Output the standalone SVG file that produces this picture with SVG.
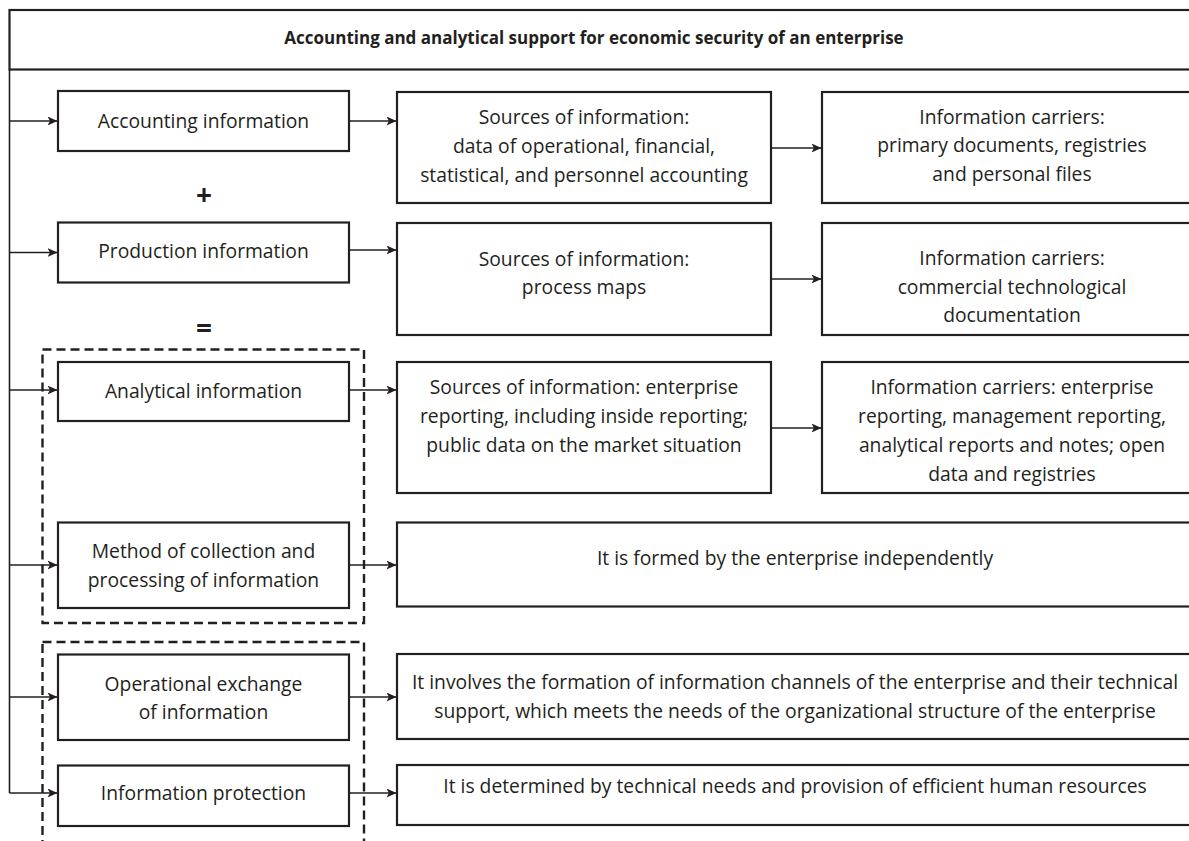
<svg xmlns="http://www.w3.org/2000/svg" width="1189" height="841" viewBox="0 0 1189 841">
<defs>
<style>
.box{fill:#fff;stroke:#231f20;stroke-width:2.2}
.dash{fill:none;stroke:#231f20;stroke-width:2.4;stroke-dasharray:9 5}
.ln{fill:none;stroke:#231f20;stroke-width:1.6}
.t{font-family:"Open Sans","Noto Sans",sans-serif;font-size:19.3px;fill:#231f20;text-anchor:middle}
.tb{font-family:"Open Sans","Noto Sans",sans-serif;font-size:17px;font-weight:bold;fill:#231f20;text-anchor:middle}
.op{font-family:"Open Sans","Noto Sans",sans-serif;font-size:28px;font-weight:bold;fill:#231f20;text-anchor:middle}
</style>
<marker id="ah" markerWidth="11" markerHeight="10" refX="10" refY="4.5" orient="auto" markerUnits="userSpaceOnUse">
<path d="M0,0 L10,4.5 L0,9 L2.5,4.5 z" fill="#231f20"/>
</marker>
</defs>
<rect width="1189" height="841" fill="#fff"/>

<g id="title">
<rect class="box" x="9.5" y="10" width="1195" height="59.5"/>
<text class="tb" x="594" y="44">Accounting and analytical support for economic security of an enterprise</text>
</g>

<g id="groups">
<rect class="dash" x="42.5" y="349.5" width="321.5" height="273.5"/>
<rect class="dash" x="42.5" y="642" width="321.5" height="230"/>
</g>

<g id="connectors">
<path class="ln" d="M9.5,69.5 V793"/>
<path class="ln" d="M9.5,121 H57.5" marker-end="url(#ah)"/>
<path class="ln" d="M9.5,252.5 H57.5" marker-end="url(#ah)"/>
<path class="ln" d="M9.5,390 H57.5" marker-end="url(#ah)"/>
<path class="ln" d="M9.5,565 H57.5" marker-end="url(#ah)"/>
<path class="ln" d="M9.5,697 H57.5" marker-end="url(#ah)"/>
<path class="ln" d="M9.5,793 H57.5" marker-end="url(#ah)"/>
<path class="ln" d="M349,121 H396.5" marker-end="url(#ah)"/>
<path class="ln" d="M349,250 H396.5" marker-end="url(#ah)"/>
<path class="ln" d="M349,390 H396.5" marker-end="url(#ah)"/>
<path class="ln" d="M349,565 H396.5" marker-end="url(#ah)"/>
<path class="ln" d="M349,697 H396.5" marker-end="url(#ah)"/>
<path class="ln" d="M349,793 H396.5" marker-end="url(#ah)"/>
<path class="ln" d="M771,148 H821.5" marker-end="url(#ah)"/>
<path class="ln" d="M771,279 H821.5" marker-end="url(#ah)"/>
<path class="ln" d="M771,428 H821.5" marker-end="url(#ah)"/>
</g>

<g id="acc">
<rect class="box" x="58" y="91" width="291" height="60"/>
<text class="t" x="203.5" y="128">Accounting information</text>
</g>
<text class="op" x="204" y="204.5">+</text>
<g id="prod">
<rect class="box" x="58" y="222.5" width="291" height="60"/>
<text class="t" x="203.5" y="258">Production information</text>
</g>
<text class="op" x="204" y="338">=</text>
<g id="anal">
<rect class="box" x="58" y="362" width="291" height="59"/>
<text class="t" x="203.5" y="398">Analytical information</text>
</g>
<g id="method">
<rect class="box" x="58" y="522.5" width="291" height="85.5"/>
<text class="t" x="203.5" y="558">Method of collection and</text>
<text class="t" x="203.5" y="587">processing of information</text>
</g>
<g id="oper">
<rect class="box" x="58" y="654.5" width="291" height="85.5"/>
<text class="t" x="203.5" y="690.5">Operational exchange</text>
<text class="t" x="203.5" y="719">of information</text>
</g>
<g id="prot">
<rect class="box" x="58" y="765.5" width="291" height="60.5"/>
<text class="t" x="203.5" y="800">Information protection</text>
</g>

<g id="src1">
<rect class="box" x="397" y="92" width="374" height="111"/>
<text class="t" x="584" y="124">Sources of information:</text>
<text class="t" x="584" y="153">data of operational, financial,</text>
<text class="t" x="584" y="182">statistical, and personnel accounting</text>
</g>
<g id="src2">
<rect class="box" x="397" y="223" width="374" height="112"/>
<text class="t" x="584" y="266">Sources of information:</text>
<text class="t" x="584" y="294">process maps</text>
</g>
<g id="src3">
<rect class="box" x="397" y="362" width="374" height="131"/>
<text class="t" x="584" y="394">Sources of information: enterprise</text>
<text class="t" x="584" y="423">reporting, including inside reporting;</text>
<text class="t" x="584" y="452">public data on the market situation</text>
</g>

<g id="car1">
<rect class="box" x="822" y="92" width="390" height="111"/>
<text class="t" x="1012" y="123.5">Information carriers:</text>
<text class="t" x="1012" y="152">primary documents, registries</text>
<text class="t" x="1012" y="180.5">and personal files</text>
</g>
<g id="car2">
<rect class="box" x="822" y="223" width="390" height="112"/>
<text class="t" x="1012" y="265">Information carriers:</text>
<text class="t" x="1012" y="293.5">commercial technological</text>
<text class="t" x="1012" y="322">documentation</text>
</g>
<g id="car3">
<rect class="box" x="822" y="362" width="390" height="131"/>
<text class="t" x="1012" y="394">Information carriers: enterprise</text>
<text class="t" x="1012" y="423">reporting, management reporting,</text>
<text class="t" x="1012" y="452">analytical reports and notes; open</text>
<text class="t" x="1012" y="481">data and registries</text>
</g>

<g id="method-res">
<rect class="box" x="397" y="522.5" width="810" height="84"/>
<text class="t" x="795" y="565">It is formed by the enterprise independently</text>
</g>
<g id="oper-res">
<rect class="box" x="397" y="654" width="810" height="85"/>
<text class="t" x="795" y="689">It involves the formation of information channels of the enterprise and their technical</text>
<text class="t" x="795" y="718">support, which meets the needs of the organizational structure of the enterprise</text>
</g>
<g id="prot-res">
<rect class="box" x="397" y="765" width="810" height="60"/>
<text class="t" x="795" y="793">It is determined by technical needs and provision of efficient human resources</text>
</g>
</svg>
